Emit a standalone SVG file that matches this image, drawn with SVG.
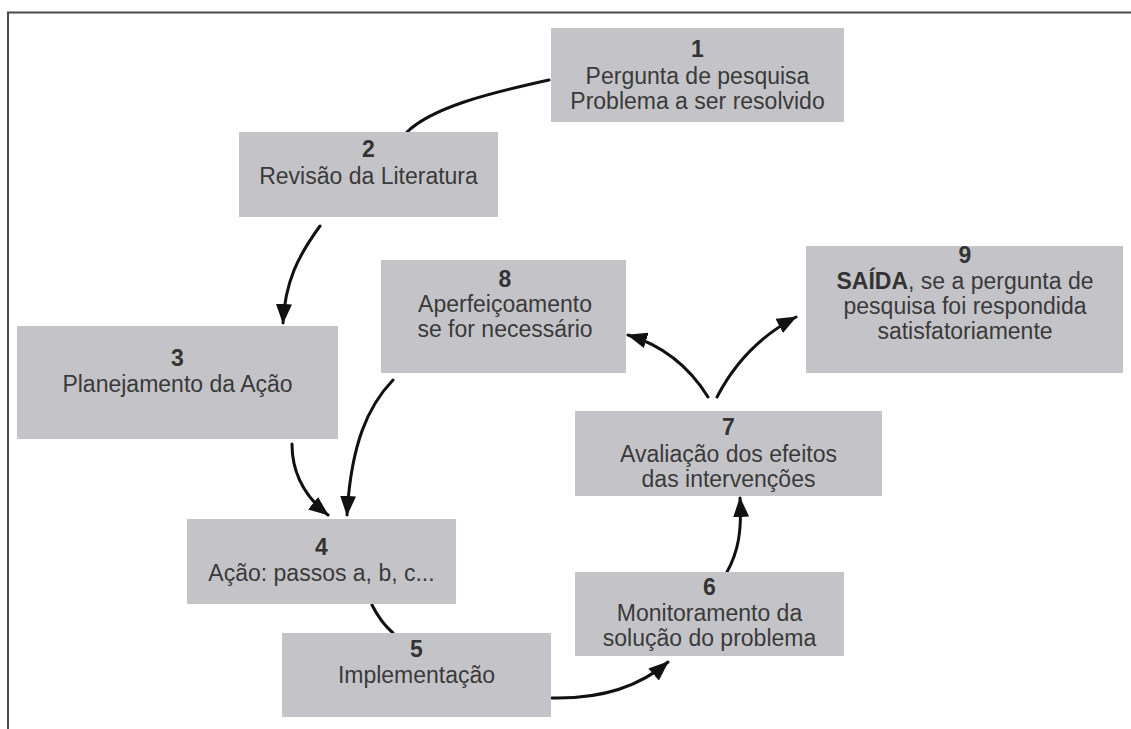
<svg xmlns="http://www.w3.org/2000/svg" width="1131" height="729" viewBox="0 0 1131 729">
  <style>
    .box { fill: #c4c4c8; }
    .lbl { font-family: "Liberation Sans", Arial, sans-serif; font-size: 23px; fill: #3a3a3a; text-anchor: middle; }
    .num { font-weight: bold; fill: #333333; }
    .frame { fill: none; stroke: #4a4a4a; stroke-width: 2; }
    .conn { fill: none; stroke: #111111; stroke-width: 3; stroke-linecap: round; }
  </style>
  <defs>
    <marker id="head" viewBox="0 0 20 16" markerWidth="20" markerHeight="16" refX="19" refY="8" orient="auto" markerUnits="userSpaceOnUse">
      <path d="M0,0 L20,8 L0,16 Z" fill="#111111"/>
    </marker>
  </defs>

  <rect width="1131" height="729" fill="#ffffff"/>
  <!-- open frame: top and left edges -->
  <path class="frame" d="M8,729 L8,12.5 L1131,12.5"/>

  <g id="connectors">
    <path class="conn" d="M549,80 C485,94 432,108 407,132"/>
    <path class="conn" d="M320,226 C298,256 285,282 283,323" marker-end="url(#head)"/>
    <path class="conn" d="M292,444 C292,472 304,496 328,515" marker-end="url(#head)"/>
    <path class="conn" d="M393,380 C368,406 351,444 347,515" marker-end="url(#head)"/>
    <path class="conn" d="M372,605 C378,617 385,626 393,633"/>
    <path class="conn" d="M552,698 C600,699 638,688 668,662" marker-end="url(#head)"/>
    <path class="conn" d="M727,572 C738,552 742,532 740,498" marker-end="url(#head)"/>
    <path class="conn" d="M708,397 C690,368 665,346 628,335" marker-end="url(#head)"/>
    <path class="conn" d="M717,397 C735,362 760,336 796,317" marker-end="url(#head)"/>
  </g>

  <g id="node1">
    <rect class="box" x="551" y="28" width="293" height="94"/>
    <text class="lbl num" x="697.5" y="57">1</text>
    <text class="lbl" x="697.5" y="84">Pergunta de pesquisa</text>
    <text class="lbl" x="697.5" y="109">Problema a ser resolvido</text>
  </g>

  <g id="node2">
    <rect class="box" x="239" y="132" width="259" height="85"/>
    <text class="lbl num" x="368.5" y="157">2</text>
    <text class="lbl" x="368.5" y="184">Revisão da Literatura</text>
  </g>

  <g id="node3">
    <rect class="box" x="17" y="326" width="321" height="113"/>
    <text class="lbl num" x="177.5" y="366">3</text>
    <text class="lbl" x="177.5" y="392">Planejamento da Ação</text>
  </g>

  <g id="node4">
    <rect class="box" x="187" y="519" width="269" height="85"/>
    <text class="lbl num" x="321.5" y="555">4</text>
    <text class="lbl" x="321.5" y="581">Ação: passos a, b, c...</text>
  </g>

  <g id="node5">
    <rect class="box" x="282" y="633" width="269" height="84"/>
    <text class="lbl num" x="416.5" y="657">5</text>
    <text class="lbl" x="416.5" y="683">Implementação</text>
  </g>

  <g id="node6">
    <rect class="box" x="575" y="572" width="269" height="84"/>
    <text class="lbl num" x="709.5" y="595">6</text>
    <text class="lbl" x="709.5" y="621">Monitoramento da</text>
    <text class="lbl" x="709.5" y="646">solução do problema</text>
  </g>

  <g id="node7">
    <rect class="box" x="575" y="411" width="307" height="85"/>
    <text class="lbl num" x="728.5" y="435">7</text>
    <text class="lbl" x="728.5" y="462">Avaliação dos efeitos</text>
    <text class="lbl" x="728.5" y="487">das intervenções</text>
  </g>

  <g id="node8">
    <rect class="box" x="381" y="260" width="245" height="113"/>
    <text class="lbl num" x="505" y="287">8</text>
    <text class="lbl" x="505" y="312">Aperfeiçoamento</text>
    <text class="lbl" x="505" y="337">se for necessário</text>
  </g>

  <g id="node9">
    <rect class="box" x="806" y="246" width="317" height="127"/>
    <text class="lbl num" x="965" y="263">9</text>
    <text class="lbl" x="965" y="289"><tspan class="num">SAÍDA</tspan>, se a pergunta de</text>
    <text class="lbl" x="965" y="314">pesquisa foi respondida</text>
    <text class="lbl" x="965" y="339">satisfatoriamente</text>
  </g>
</svg>
